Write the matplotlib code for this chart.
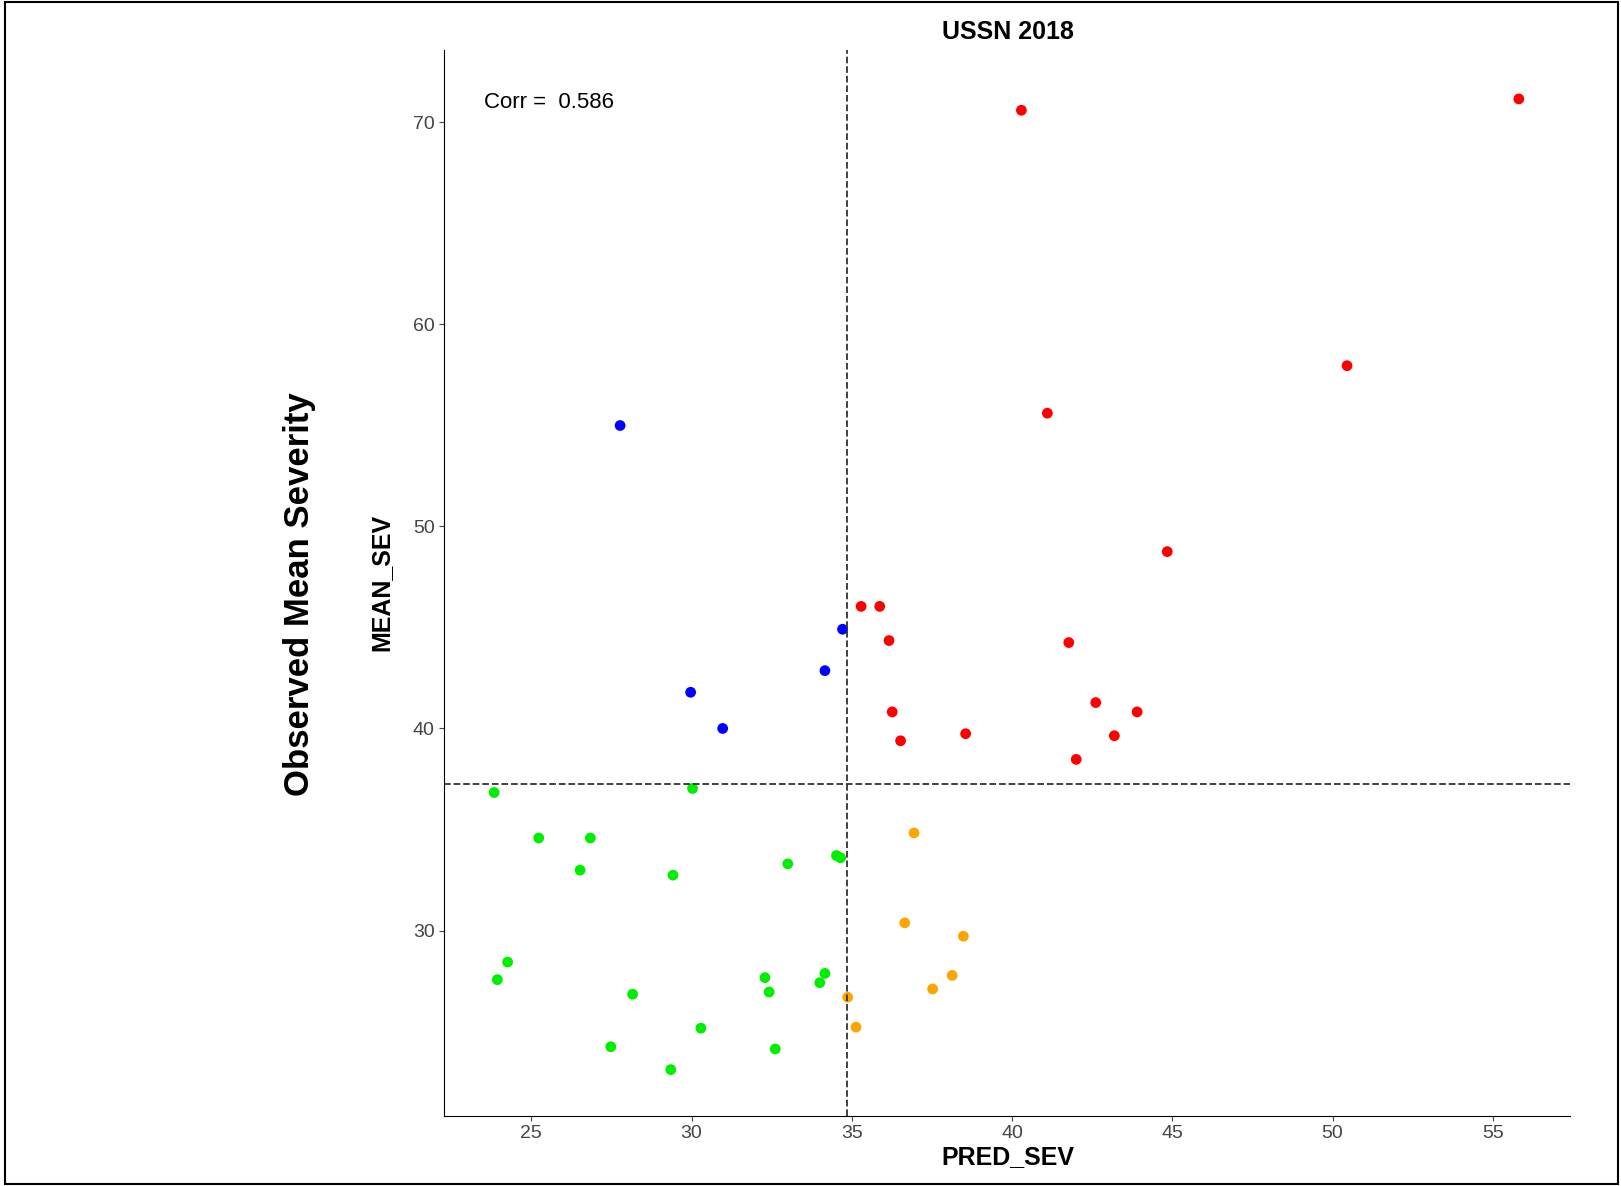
import matplotlib.pyplot as plt
from matplotlib.patches import Rectangle

plt.rcParams['font.family'] = ['Liberation Sans', 'DejaVu Sans']

red_x = [40.29, 55.81, 50.45, 41.10, 44.84, 35.29, 35.87, 36.16, 41.77, 36.26, 42.61, 43.90, 36.52, 38.55, 43.19, 42.0]
red_y = [70.59, 71.15, 57.95, 55.60, 48.75, 46.04, 46.04, 44.35, 44.25, 40.82, 41.28, 40.82, 39.39, 39.74, 39.64, 38.47]
blue_x = [27.77, 34.71, 34.16, 29.97, 30.97]
blue_y = [54.99, 44.91, 42.86, 41.79, 40.0]
green_x = [23.84, 30.03, 25.23, 26.84, 26.52, 29.42, 33.0, 34.52, 34.65, 24.26, 23.94, 32.29, 34.16, 34.0,
           32.42, 28.16, 30.29, 27.48, 32.61, 29.35]
green_y = [36.83, 37.03, 34.58, 34.58, 32.99, 32.74, 33.30, 33.71, 33.6, 28.44, 27.57, 27.67, 27.88, 27.42,
           26.96, 26.85, 25.17, 24.25, 24.14, 23.12]
orange_x = [36.94, 36.65, 38.48, 38.13, 37.52, 34.87, 35.13]
orange_y = [34.83, 30.38, 29.72, 27.78, 27.11, 26.70, 25.22]
x_cut = 34.84
y_cut = 37.24
corr = 0.586

fig = plt.figure(figsize=(16.21, 11.86), dpi=100)
fig.patches.append(Rectangle((0.003, 0.002), 0.995, 0.996, transform=fig.transFigure,
                             fill=False, edgecolor='black', linewidth=1.5))
ax = fig.add_axes([0.2742, 0.0593, 0.6946, 0.8987])

for xs, ys, c in [(red_x, red_y, 'red'), (blue_x, blue_y, 'blue'),
                  (green_x, green_y, '#00ee00'), (orange_x, orange_y, 'orange')]:
    ax.scatter(xs, ys, c=c, s=60, edgecolors='none')

ax.axvline(x_cut, color='#333333', linestyle='--', linewidth=1.3)
ax.axhline(y_cut, color='#333333', linestyle='--', linewidth=1.3)

ax.set_xlim(22.29, 57.42)
ax.set_ylim(20.84, 73.58)
ax.set_xticks([25, 30, 35, 40, 45, 50, 55])
ax.set_yticks([30, 40, 50, 60, 70])
ax.tick_params(labelsize=14, colors='#444444', labelcolor='#444444')
for s in ['top', 'right']:
    ax.spines[s].set_visible(False)

ax.text(0.035, 0.951, f'Corr =  {corr}', transform=ax.transAxes, fontsize=16, va='center')
ax.set_title('USSN 2018', fontsize=18, fontweight='bold', pad=8)
ax.set_xlabel('PRED_SEV', fontsize=18, fontweight='bold', labelpad=2)
ax.set_ylabel('MEAN_SEV', fontsize=18, fontweight='bold', labelpad=14)
fig.text(0.185, 0.499, 'Observed Mean Severity', rotation=90, fontsize=25,
         fontweight='bold', ha='center', va='center')

fig.savefig('out.png', dpi=100)
